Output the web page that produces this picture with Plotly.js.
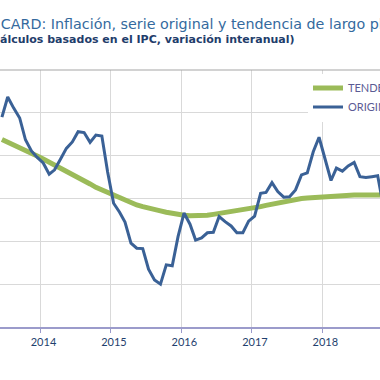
<!DOCTYPE html>
<html>
<head>
<meta charset="utf-8">
<script src="https://cdn.plot.ly/plotly-3.0.1.min.js"></script>
<style>html,body{margin:0;padding:0;background:#fff;}#chart{width:380px;height:380px;}</style>
</head>
<body>
<div id="chart"></div>
<script>
// Monthly observations (mid-month), Jun 2013 - Nov 2018
var months = [
 '2013-06-15','2013-07-15','2013-08-15','2013-09-15','2013-10-15','2013-11-15','2013-12-15',
 '2014-01-15','2014-02-15','2014-03-15','2014-04-15','2014-05-15','2014-06-15','2014-07-15','2014-08-15','2014-09-15','2014-10-15','2014-11-15','2014-12-15',
 '2015-01-15','2015-02-15','2015-03-15','2015-04-15','2015-05-15','2015-06-15','2015-07-15','2015-08-15','2015-09-15','2015-10-15','2015-11-15','2015-12-15',
 '2016-01-15','2016-02-15','2016-03-15','2016-04-15','2016-05-15','2016-06-15','2016-07-15','2016-08-15','2016-09-15','2016-10-15','2016-11-15','2016-12-15',
 '2017-01-15','2017-02-15','2017-03-15','2017-04-15','2017-05-15','2017-06-15','2017-07-15','2017-08-15','2017-09-15','2017-10-15','2017-11-15','2017-12-15',
 '2018-01-15','2018-02-15','2018-03-15','2018-04-15','2018-05-15','2018-06-15','2018-07-15','2018-08-15','2018-09-15','2018-10-15','2018-11-15'
];
var original = [
 3.90,4.37,4.11,3.88,3.37,3.11,2.96,
 2.83,2.57,2.67,2.92,3.17,3.32,3.56,3.54,3.31,3.48,3.46,2.62,
 1.89,1.68,1.45,0.96,0.84,0.83,0.35,0.10,0.00,0.45,0.43,1.11,
 1.66,1.40,1.03,1.08,1.20,1.21,1.58,1.46,1.36,1.20,1.20,1.47,
 1.59,2.12,2.14,2.37,2.16,2.03,2.04,2.20,2.55,2.60,3.09,3.43,
 2.90,2.42,2.71,2.64,2.76,2.84,2.51,2.49,2.51,2.53,1.78
];
var tendencia = [
 3.38,3.32,3.25,3.18,3.11,3.05,2.99,
 2.92,2.85,2.78,2.70,2.63,2.55,2.48,2.41,2.34,2.26,2.20,2.14,
 2.08,2.01,1.94,1.90,1.85,1.81,1.77,1.74,1.71,1.68,1.65,1.63,
 1.61,1.60,1.60,1.60,1.61,1.63,1.65,1.66,1.68,1.71,1.73,1.75,
 1.78,1.81,1.84,1.87,1.90,1.93,1.95,1.98,2.00,2.01,2.02,2.04,
 2.05,2.07,2.07,2.08,2.08,2.08,2.08,2.08,2.08,2.08,2.08
];
var yearTicks = ['2014-01-01','2015-01-01','2016-01-01','2017-01-01','2018-01-01'];
var yearLabels = ['2014','2015','2016','2017','2018'];
var seriesNames = ['TENDENCIA','ORIGINAL'];
var titleText = 'CARD: Inflación, serie original y tendencia de largo plazo';
var subtitleText = 'álculos basados en el IPC, variación interanual)';

var traces = [
  {x: months, y: tendencia, name: seriesNames[0], type: 'scatter', mode: 'lines',
   line: {color: '#9bbb59', width: 5}},
  {x: months, y: original, name: seriesNames[1], type: 'scatter', mode: 'lines',
   line: {color: '#3a6196', width: 3}}
];

var layout = {
  width: 380, height: 380,
  margin: {l: 0, r: 0, t: 70, b: 53, autoexpand: false},
  paper_bgcolor: '#ffffff', plot_bgcolor: '#ffffff',
  font: {family: 'Lato, "Open Sans", sans-serif'},
  title: {text: titleText, x: 0.002, xanchor: 'left', xref: 'paper',
          y: 1 - 24/380, yanchor: 'middle',
          font: {family: '"DejaVu Sans", sans-serif', size: 14.3, color: '#346a9e'}},
  annotations: [{
    text: '<b>' + subtitleText + '</b>', xref: 'paper', yref: 'paper',
    x: -0.004, xanchor: 'left', y: (327-40)/257, yanchor: 'middle', showarrow: false,
    font: {family: '"DejaVu Sans", sans-serif', size: 11, color: '#1f3d6b'}
  }],
  xaxis: {type: 'date', range: ['2013-06-05', '2018-10-27'],
          tickvals: yearTicks, ticktext: yearLabels,
          showgrid: true, gridcolor: '#d9d9d9', gridwidth: 1,
          showline: true, linecolor: '#9b9bcb', linewidth: 1.5,
          ticks: 'outside', ticklen: 4, tickcolor: '#9b9bcb', tickwidth: 1,
          ticklabelshift: 3,
          tickfont: {family: 'Lato, sans-serif', size: 11, color: '#1f3f6e'},
          zeroline: false, fixedrange: true},
  yaxis: {range: [-1, 5], dtick: 1, tick0: 0, showticklabels: false, ticks: '',
          showgrid: true, gridcolor: '#d9d9d9', gridwidth: 1,
          zeroline: false, showline: false, fixedrange: true},
  shapes: [{type: 'line', xref: 'paper', yref: 'paper', x0: 0, x1: 1, y0: 1, y1: 1,
            line: {color: '#a6a6a6', width: 1.2}}],
  showlegend: true,
  legend: {x: 308/380, xanchor: 'left', y: (327-73.5)/257, yanchor: 'top',
           bgcolor: '#ffffff', borderwidth: 0, traceorder: 'normal',
           font: {family: 'Lato, sans-serif', size: 11, color: '#5b5b94'},
           itemwidth: 30, tracegroupgap: 0}
};

Plotly.newPlot('chart', traces, layout, {displayModeBar: false, staticPlot: true});
</script>
</body>
</html>
